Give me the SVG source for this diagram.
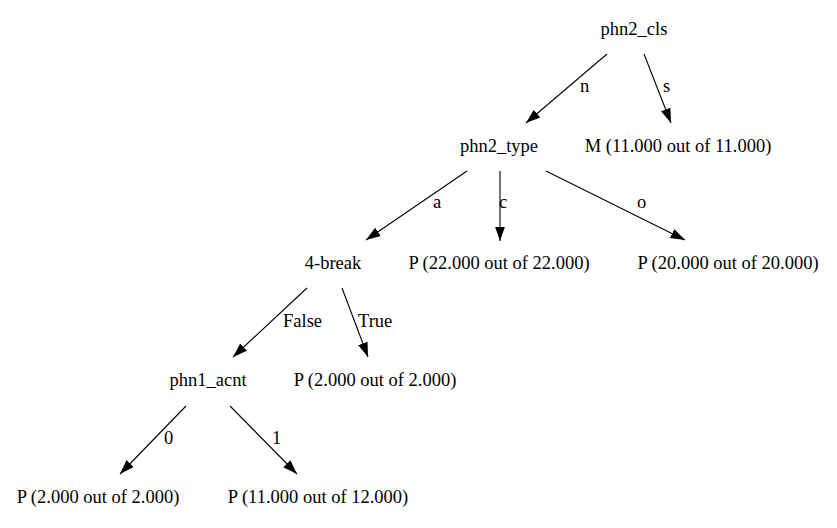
<svg xmlns="http://www.w3.org/2000/svg" width="837" height="528" viewBox="0 0 837 528">
<defs>
<marker id="arr" markerUnits="userSpaceOnUse" markerWidth="16" markerHeight="12" refX="14.5" refY="0" viewBox="0 -6 16 12" orient="auto">
<path d="M0,-5 L14.5,0 L0,5 Z" fill="#000"/>
</marker>
</defs>
<style>
text{font-family:"Liberation Serif","Times New Roman",serif;font-size:18.5px;fill:#000}
.n{text-anchor:middle}
.e line{stroke:#000;stroke-width:1.1;marker-end:url(#arr)}
</style>
<rect width="837" height="528" fill="#fff"/>
<g id="edges" class="e">
<line x1="607" y1="54" x2="526" y2="123"/>
<line x1="644" y1="54" x2="671" y2="123"/>
<line x1="467" y1="171" x2="366" y2="240"/>
<line x1="500" y1="171" x2="500" y2="241"/>
<line x1="546" y1="171" x2="685" y2="240"/>
<line x1="307" y1="288" x2="233" y2="357"/>
<line x1="342" y1="288" x2="368" y2="357"/>
<line x1="186" y1="406" x2="120" y2="474"/>
<line x1="230" y1="406" x2="297" y2="474"/>
<text x="580" y="92">n</text>
<text x="663" y="92">s</text>
<text x="433" y="208">a</text>
<text x="499" y="208">c</text>
<text x="637" y="208">o</text>
<text x="283" y="327">False</text>
<text x="358" y="327">True</text>
<text x="164" y="444">0</text>
<text x="272" y="444">1</text>
</g>
<g id="phn2_cls"><text class="n" x="634" y="35">phn2_cls</text></g>
<g id="phn2_type"><text class="n" x="499" y="152">phn2_type</text></g>
<g id="leaf_M11"><text class="n" x="678" y="152">M (11.000 out of 11.000)</text></g>
<g id="break4"><text class="n" x="333" y="269">4-break</text></g>
<g id="leaf_P22"><text class="n" x="499" y="269">P (22.000 out of 22.000)</text></g>
<g id="leaf_P20"><text class="n" x="728" y="269">P (20.000 out of 20.000)</text></g>
<g id="phn1_acnt"><text class="n" x="208" y="386">phn1_acnt</text></g>
<g id="leaf_P2_true"><text class="n" x="375" y="386">P (2.000 out of 2.000)</text></g>
<g id="leaf_P2_0"><text class="n" x="98" y="503">P (2.000 out of 2.000)</text></g>
<g id="leaf_P11"><text class="n" x="318" y="503">P (11.000 out of 12.000)</text></g>
</svg>
